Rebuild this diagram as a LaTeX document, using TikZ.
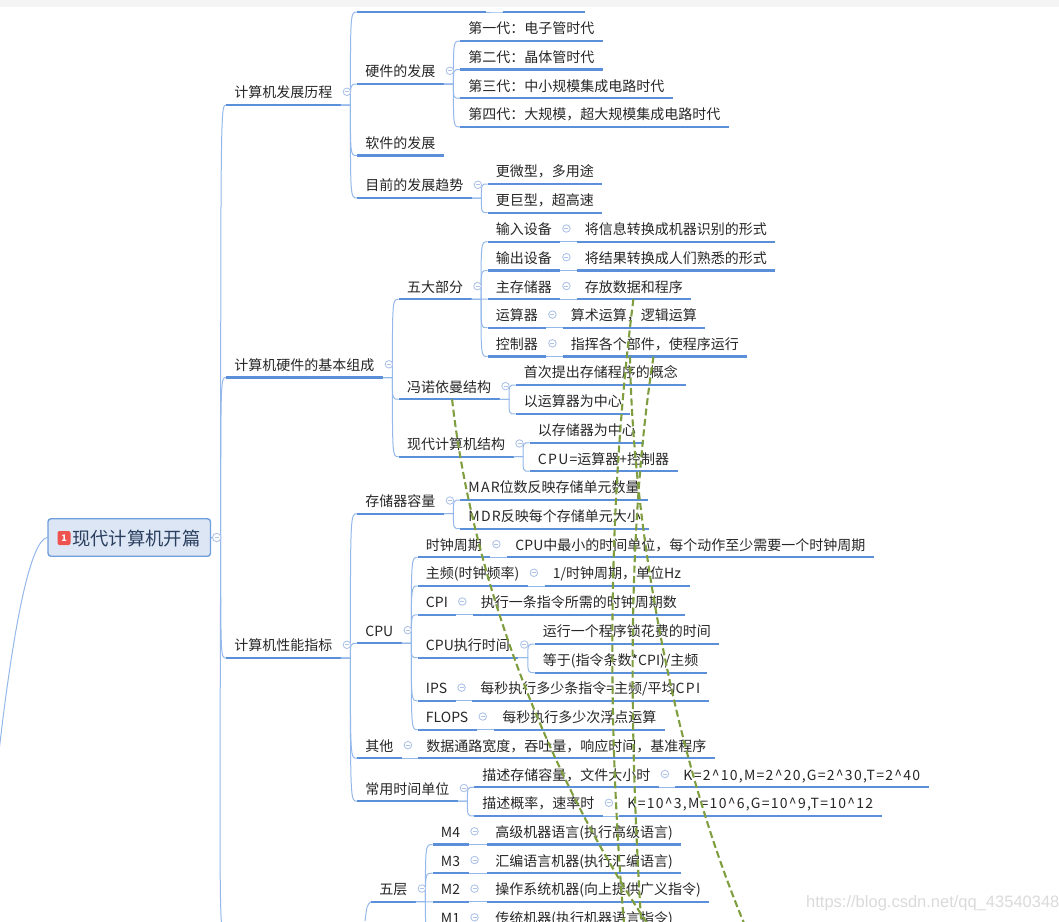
\documentclass[tikz,border=0pt]{standalone}
\usepackage{fontspec}
\setmainfont{Noto Sans CJK SC}
\newfontfamily\markfont{Liberation Sans}
\newcommand{\widen}[1]{{\addfontfeatures{LetterSpace=9}#1}}
\definecolor{topicblue}{HTML}{5B8FD9}
\definecolor{linkblue}{HTML}{94B8EA}
\definecolor{foldblue}{HTML}{AFC3E8}
\definecolor{rootfill}{HTML}{DCE6F4}
\definecolor{rootedge}{HTML}{6F9FDC}
\definecolor{rootink}{HTML}{2A3F5F}
\definecolor{relgreen}{HTML}{7F9E3F}
\definecolor{bandgray}{HTML}{F4F4F4}
\definecolor{markgray}{HTML}{DADADA}
\definecolor{badgered}{HTML}{EF5350}

\begin{document}
\begin{tikzpicture}[
        x=1pt, y=-1pt,
        every node/.style={inner sep=0pt, text=black!85},
        uline/.style={draw=topicblue, line width=2.2pt},
        topic/.style={
            anchor=south west, inner xsep=8.25pt, minimum height=26pt,
            text height=15pt, text depth=3pt,
            font=\fontsize{14}{16}\selectfont,
            append after command={(\tikzlastnode.south west) edge[uline] (\tikzlastnode.south east)}
        },
        link/.style={
            draw=linkblue, line width=1pt,
            to path={-- ++(9.5,0) coordinate (bend) .. controls (bend |- \tikztotarget) .. (\tikztotarget)}
        },
        fold/.style={
            circle, draw=foldblue, fill=white, line width=0.9pt, minimum size=7.5pt,
            path picture={\draw[foldblue, line width=0.9pt] ([xshift=-2pt]path picture bounding box.center) -- ([xshift=2pt]path picture bounding box.center);}
        },
        rootbox/.style={
            draw=rootedge, fill=rootfill, line width=1.4pt, rounded corners=3pt,
            minimum width=162.5pt, minimum height=37.5pt,
            text height=18pt, text depth=3pt,
            text=rootink, font=\fontsize{18.3}{20}\selectfont
        },
        badge/.style={
            fill=badgered, rounded corners=2pt, minimum width=13pt, minimum height=14pt,
            text=white, font=\fontsize{9}{9}\selectfont\bfseries
        },
        relation/.style={draw=relgreen, line width=2.1pt, dash pattern=on 7pt off 3.5pt}
    ]
    \useasboundingbox (0,0) rectangle (1059,921);
    \clip (0,0) rectangle (1059,921);

    \node[rootbox] (root) at (129.25,537.5) {\hspace{14pt}现代计算机开篇};
    \node[badge] (rootbadge) at (64,538) {1};

    \node[topic] (hist) at (226,105) {计算机发展历程};
    \node[topic] (base) at (226,377.5) {计算机硬件的基本组成};
    \node[topic] (perf) at (226,658) {计算机性能指标};
    \coordinate (layers) at (365,921);
    \coordinate (leftend) at (-2,760);

    \node[topic, minimum width=129pt] (old) at (357,12) {};
    \node[topic, minimum width=82pt] (oldleaf) at (503,12) {};
    \node[topic] (hw) at (357,84) {硬件的发展};
    \node[topic] (sw) at (357,155.5) {软件的发展};
    \node[topic] (trend) at (357,198) {目前的发展趋势};
    \node[topic] (gena) at (460,41) {第一代：电子管时代};
    \node[topic] (genb) at (460,69.5) {第二代：晶体管时代};
    \node[topic] (genc) at (460,98.3) {第三代：中小规模集成电路时代};
    \node[topic] (gend) at (460,127) {第四代：大规模，超大规模集成电路时代};
    \node[topic] (micro) at (487.5,184) {更微型，多用途};
    \node[topic] (giant) at (487.5,212.7) {更巨型，超高速};

    \node[topic] (five) at (398.6,299.3) {五大部分};
    \node[topic] (vn) at (398.6,399.3) {冯诺依曼结构};
    \node[topic] (modern) at (398.6,456.7) {现代计算机结构};
    \node[topic] (input) at (487.5,241.7) {输入设备};
    \node[topic] (output) at (487.5,270.4) {输出设备};
    \node[topic] (store) at (487.5,299.2) {主存储器};
    \node[topic] (alu) at (487.5,327.8) {运算器};
    \node[topic] (ctrl) at (487.5,356.5) {控制器};
    \node[topic] (inputleaf) at (576.5,241.7) {将信息转换成机器识别的形式};
    \node[topic] (outputleaf) at (576.5,270.4) {将结果转换成人们熟悉的形式};
    \node[topic] (storeleaf) at (576.5,299.2) {存放数据和程序};
    \node[topic] (aluleaf) at (562.5,327.8) {算术运算，逻辑运算};
    \node[topic] (ctrlleaf) at (562.5,356.5) {指挥各个部件，使程序运行};
    \node[topic] (first) at (515.5,385) {首次提出存储程序的概念};
    \node[topic] (alucore) at (515.5,414) {以运算器为中心};
    \node[topic] (memcore) at (529.5,442.7) {以存储器为中心};
    \node[topic] (cpuis) at (529.5,471.3) {\widen{CPU=}运算器\widen{+}控制器};

    \node[topic] (mem) at (357,513.7) {存储器容量};
    \node[topic] (cpu) at (357,643.3) {CPU};
    \node[topic] (other) at (357,758.3) {其他};
    \node[topic] (unit) at (357,801.2) {常用时间单位};
    \node[topic] (mar) at (460,500) {\widen{MAR}位数反映存储单元数量};
    \node[topic] (mdr) at (460,528.7) {\widen{MDR}反映每个存储单元大小};
    \node[topic] (clock) at (417.5,557.3) {时钟周期};
    \node[topic] (freq) at (417.5,586) {主频(时钟频率)};
    \node[topic] (cpi) at (417.5,614.7) {CPI};
    \node[topic] (time) at (417.5,657.7) {CPU执行时间};
    \node[topic] (ips) at (417.5,700.8) {IPS};
    \node[topic] (flops) at (417.5,729.7) {FLOPS};
    \node[topic] (clockleaf) at (507,557.3) {CPU中最小的时间单位，每个动作至少需要一个时钟周期};
    \node[topic] (freqleaf) at (544.5,586) {1/时钟周期，单位Hz};
    \node[topic] (cpileaf) at (472.5,614.7) {执行一条指令所需的时钟周期数};
    \node[topic] (run) at (534.5,644) {运行一个程序锁花费的时间};
    \node[topic] (equal) at (534.5,672.7) {等于(指令条数*CPI)/主频};
    \node[topic] (ipsleaf) at (472,700.8) {每秒执行多少条指令\widen{=}主频/平均\widen{CPI}};
    \node[topic] (flopsleaf) at (494,729.7) {每秒执行多少次浮点运算};
    \node[topic] (otherleaf) at (418,758.3) {数据通路宽度，吞吐量，响应时间，基准程序};
    \node[topic] (size) at (474,787.2) {描述存储容量，文件大小时};
    \node[topic] (rate) at (474,816) {描述概率，速率时};
    \node[topic] (sizeleaf) at (675,787.2) {\widen{K=2\textasciicircum 10,M=2\textasciicircum 20,G=2\textasciicircum 30,T=2\textasciicircum 40}};
    \node[topic] (rateleaf) at (619,816) {\widen{K=10\textasciicircum 3,M=10\textasciicircum 6,G=10\textasciicircum 9,T=10\textasciicircum 12}};

    \node[topic] (wuceng) at (371,901.7) {五层};
    \node[topic] (mfour) at (432.5,844.5) {M4};
    \node[topic] (mthree) at (432.5,873.2) {M3};
    \node[topic] (mtwo) at (432.5,901.8) {M2};
    \node[topic] (mone) at (432.5,930.5) {M1};
    \node[topic] (mfourleaf) at (487,844.5) {高级机器语言(执行高级语言)};
    \node[topic] (mthreeleaf) at (487,873.2) {汇编语言机器(执行汇编语言)};
    \node[topic] (mtwoleaf) at (487,901.8) {操作系统机器(向上提供广义指令)};
    \node[topic] (moneleaf) at (487,930.5) {传统机器(执行机器语言指令)};

    \foreach \kid in {hist,base,perf}
        \draw[link] (root.east) to (\kid.south west);
    \draw[draw=linkblue, line width=1pt] (wuceng.south west) .. controls (367,905) .. (layers);
    \draw[draw=linkblue, line width=1pt] (root.west) .. controls (32,540) and (15,610) .. (leftend);
    \draw[draw=linkblue, line width=1pt] (root.east) -- ++(9.5,0) .. controls (219.5,921) .. (224,940);
    \node[fold, minimum size=8.5pt] (foldroot) at ([xshift=5.5pt]root.east) {};

    \foreach \up/\kids in {
        hist/{old,hw,sw,trend}, old/{oldleaf}, hw/{gena,genb,genc,gend}, trend/{micro,giant},
        base/{five,vn,modern}, five/{input,output,store,alu,ctrl},
        input/{inputleaf}, output/{outputleaf}, store/{storeleaf}, alu/{aluleaf}, ctrl/{ctrlleaf},
        vn/{first,alucore}, modern/{memcore,cpuis},
        perf/{mem,cpu,other,unit}, mem/{mar,mdr}, cpu/{clock,freq,cpi,time,ips,flops},
        clock/{clockleaf}, freq/{freqleaf}, cpi/{cpileaf}, time/{run,equal}, ips/{ipsleaf},
        flops/{flopsleaf}, other/{otherleaf}, unit/{size,rate}, size/{sizeleaf}, rate/{rateleaf},
        wuceng/{mfour,mthree,mtwo,mone}, mfour/{mfourleaf}, mthree/{mthreeleaf},
        mtwo/{mtwoleaf}, mone/{moneleaf}%
    }{
        \foreach \kid in \kids
            \draw[link] (\up.south east) to (\kid.south west);
        \node[fold] (fold\up) at ([xshift=6pt]\up.east) {};
    }

    \coordinate (relastart) at ([xshift=-58pt]storeleaf.south east);
    \coordinate (relbstart) at ([xshift=67.5pt]ctrlleaf.south west);
    \coordinate (relcstart) at ([xshift=91pt]ctrlleaf.south west);
    \coordinate (reldstart) at ([xshift=53.5pt]vn.south west);
    \coordinate (relaend) at (625,935);
    \coordinate (relbend) at (749,935);
    \coordinate (relcend) at (642,935);
    \coordinate (reldend) at (655,935);
    \draw[relation] (relastart) .. controls (608,500) and (606,720) .. (relaend);
    \draw[relation] (relbstart) .. controls (632,500) and (665,740) .. (relbend);
    \draw[relation] (relcstart) .. controls (628,520) and (628,720) .. (relcend);
    \draw[relation] (reldstart) .. controls (470,560) and (536,760) .. (reldend);

    \fill[bandgray] (0,0) rectangle (1059,7);
    \node[anchor=west, text=markgray, font=\markfont\fontsize{16.5}{18}\selectfont] (watermark) at (806,903) {https://blog.csdn.net/qq\_43540348};
\end{tikzpicture}
\end{document}
